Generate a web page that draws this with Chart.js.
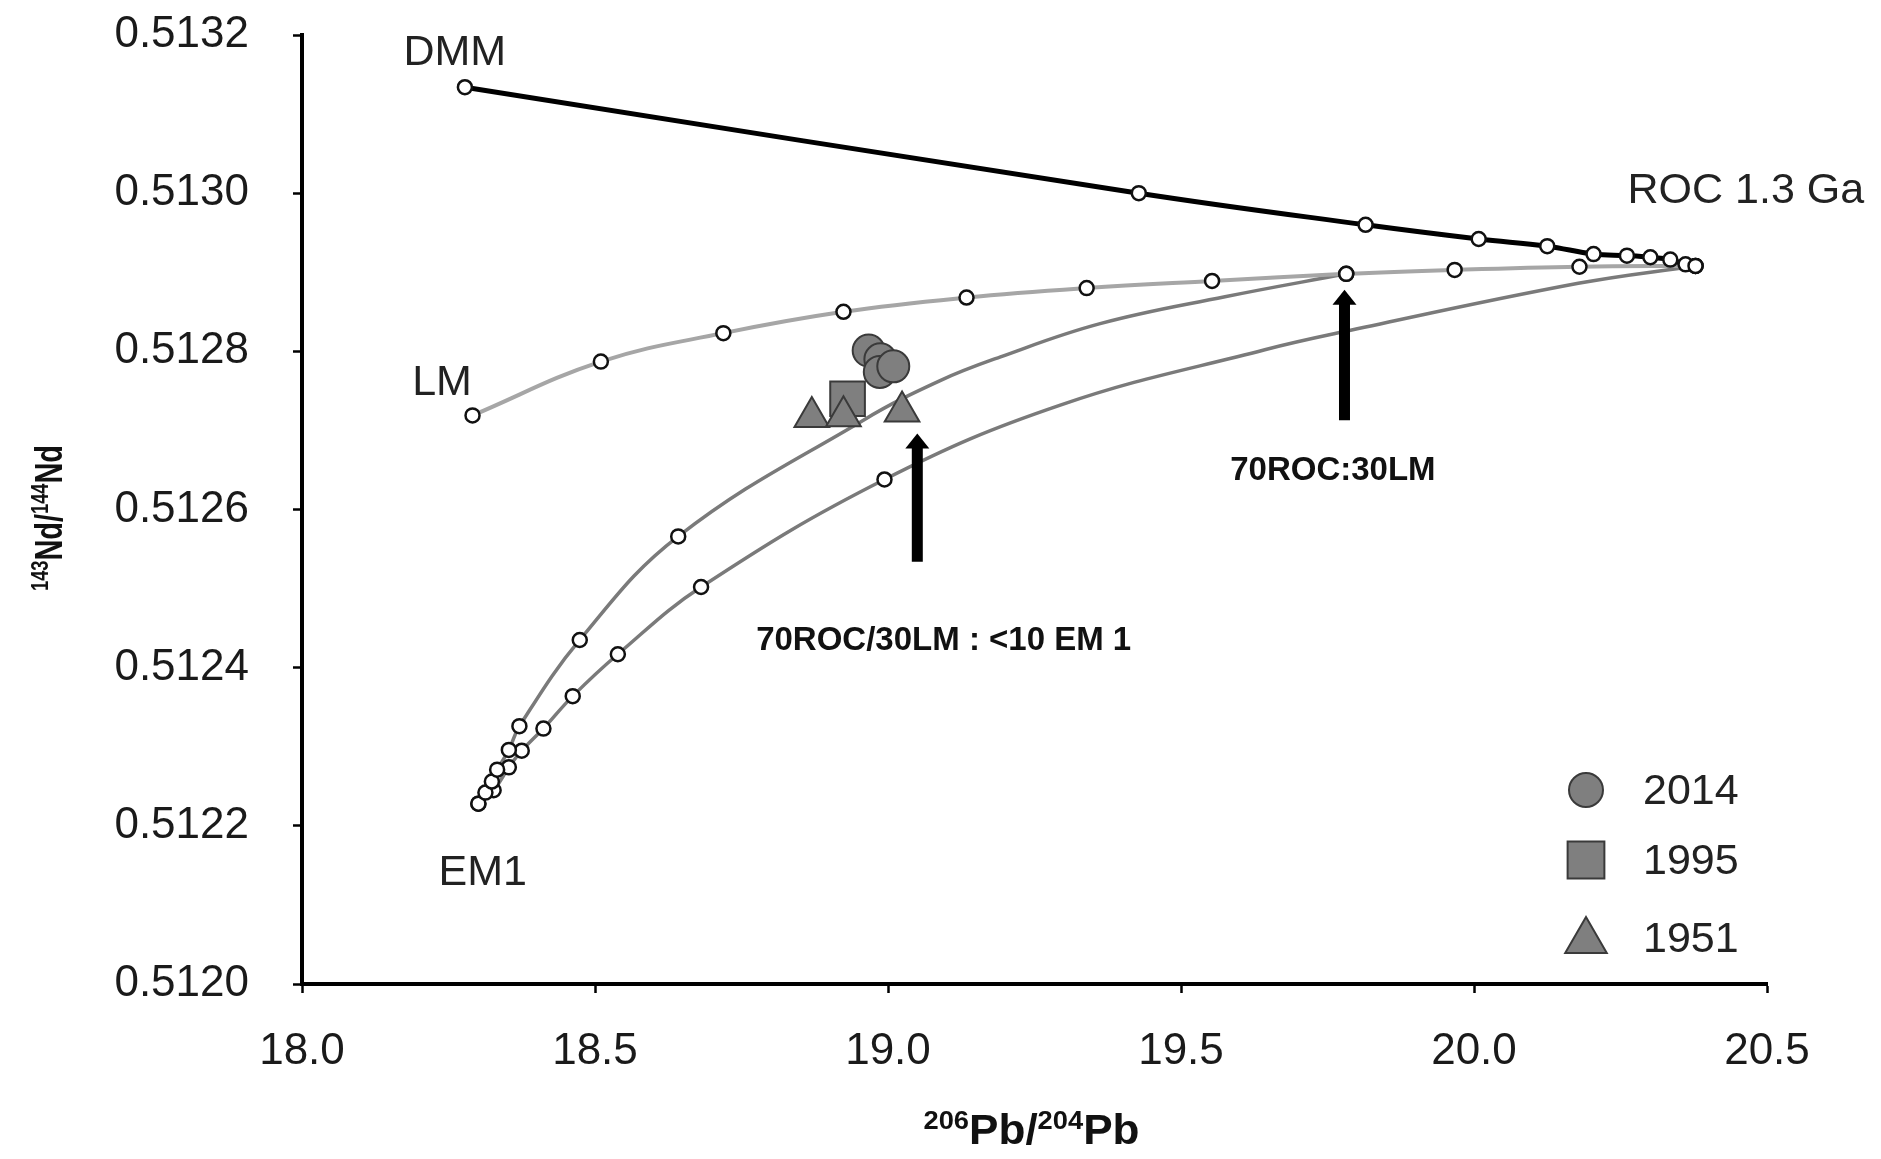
<!DOCTYPE html>
<html>
<head>
<meta charset="utf-8">
<script src="https://cdn.jsdelivr.net/npm/chart.js@4.4.1/dist/chart.umd.min.js"></script>
<style>
html,body{margin:0;padding:0;background:#ffffff;}
#wrap{width:1881px;height:1159px;position:relative;}
canvas{display:block;}
</style>
</head>
<body>
<div id="wrap"><canvas id="c" width="1881" height="1159" style="width:1881px;height:1159px"></canvas></div>
<script>
// ---------- axis ticks ----------
const xTickValues = [18.0, 18.5, 19.0, 19.5, 20.0, 20.5];
const yTickValues = [0.5120, 0.5122, 0.5124, 0.5126, 0.5128, 0.5130, 0.5132];

// ---------- DMM – ROC mixing line (model nodes) ----------
const dmmX = [18.278, 19.428, 19.815, 20.008, 20.125, 20.204, 20.261, 20.301, 20.335, 20.361, 20.378];
const dmmY = [0.513134, 0.513000, 0.512960, 0.512942, 0.512933, 0.512923, 0.512921, 0.512919, 0.512916, 0.512910, 0.512908];

// ---------- LM – ROC mixing line (model nodes) ----------
const lmX = [18.291, 18.510, 18.719, 18.924, 19.134, 19.339, 19.553, 19.782, 19.967, 20.180, 20.378];
const lmY = [0.512719, 0.512787, 0.512823, 0.512850, 0.512868, 0.512880, 0.512889, 0.512898, 0.512903, 0.512907, 0.512908];

// ---------- EM1 – (70ROC/30LM) mixing curve ----------
const mixNodeX = [18.301, 18.313, 18.324, 18.333, 18.353, 18.371, 18.474, 18.642, 19.782];
const mixNodeY = [0.512228, 0.512242, 0.512256, 0.512271, 0.512296, 0.512326, 0.512435, 0.512566, 0.512898];
const mixTraceX = [18.958, 19.089, 19.192, 19.362, 19.575];
const mixTraceY = [0.512713, 0.512763, 0.512793, 0.512835, 0.512869];

// ---------- EM1 – ROC mixing curve ----------
const emNodeX = [18.301, 18.327, 18.353, 18.375, 18.412, 18.462, 18.539, 18.681, 18.994, 20.378];
const emNodeY = [0.512228, 0.512245, 0.512274, 0.512295, 0.512323, 0.512364, 0.512417, 0.512502, 0.512638, 0.512908];
const emTraceX = [19.294, 19.643, 19.779, 20.178];
const emTraceY = [0.512732, 0.512802, 0.512825, 0.512886];

// ---------- samples ----------
const s2014X = [18.967, 18.987, 18.986, 19.009];
const s2014Y = [0.512801, 0.512790, 0.512774, 0.512781];
const s1995X = [18.931];
const s1995Y = [0.512740];
const s1951X = [18.870, 18.924, 19.024];
const s1951Y = [0.512717, 0.512718, 0.512724];

// ---------- arrows ----------
const arrowX = [19.050, 19.779];
const arrowFromY = [0.512534, 0.512713];
const arrowToY = [0.512696, 0.512878];

// ---------- labels ----------
const labelTexts = ['DMM', 'ROC 1.3 Ga', 'LM', 'EM1', '70ROC/30LM : <10 EM 1', '70ROC:30LM'];
const labelX = [18.173, 20.262, 18.188, 18.233, 18.775, 19.584];
const labelY = [0.513162, 0.512988, 0.512745, 0.512125, 0.512422, 0.512637];
const labelBold = [false, false, false, false, true, true];

const legendNames = ['2014', '1995', '1951'];

// ---------- helpers ----------
const FONT = "'Liberation Sans', Arial, Helvetica, sans-serif";
const pts = (xs, ys) => xs.map((v, i) => ({x: v, y: ys[i]}));
const merged = (ax, ay, bx, by) => pts(ax, ay).concat(pts(bx, by)).sort((a, b) => a.x - b.x);

const MARK_FILL = '#7f7f7f';
const MARK_EDGE = '#3a3a3a';

const lineDs = (data, color, width) => ({
  data, showLine: true, borderColor: color, borderWidth: width,
  pointRadius: 0, pointHoverRadius: 0, tension: 0.4, fill: false, order: 5
});
const nodeDs = (data) => ({
  data, showLine: false, pointRadius: 7, pointHoverRadius: 7, pointBorderWidth: 2.5,
  pointBackgroundColor: '#ffffff', pointBorderColor: '#111111', order: 4
});

const datasets = [
  lineDs(pts(dmmX, dmmY), '#000000', 5),
  lineDs(pts(lmX, lmY), '#a6a6a6', 4),
  lineDs(merged(mixNodeX, mixNodeY, mixTraceX, mixTraceY), '#7a7a7a', 3.5),
  lineDs(merged(emNodeX, emNodeY, emTraceX, emTraceY), '#7a7a7a', 3.5),
  nodeDs(pts(dmmX, dmmY)),
  nodeDs(pts(lmX, lmY)),
  nodeDs(pts(mixNodeX, mixNodeY)),
  nodeDs(pts(emNodeX, emNodeY)),
  { label: legendNames[1], data: pts(s1995X, s1995Y), pointStyle: 'rect', pointRadius: 24.5, pointBorderWidth: 2,
    pointBackgroundColor: MARK_FILL, pointBorderColor: MARK_EDGE, order: 3 },
  { label: legendNames[0], data: pts(s2014X, s2014Y), pointStyle: 'circle', pointRadius: 16, pointBorderWidth: 2,
    pointBackgroundColor: MARK_FILL, pointBorderColor: MARK_EDGE, order: 2 },
  { label: legendNames[2], data: pts(s1951X, s1951Y), pointStyle: 'triangle', pointRadius: 20, pointBorderWidth: 2,
    pointBackgroundColor: MARK_FILL, pointBorderColor: MARK_EDGE, order: 1 }
];

function drawMarker(ctx, style, cx, cy, r) {
  ctx.beginPath();
  if (style === 'circle') {
    ctx.arc(cx, cy, r, 0, Math.PI * 2);
  } else if (style === 'rect') {
    const s = r * Math.SQRT1_2;
    ctx.rect(cx - s, cy - s, 2 * s, 2 * s);
  } else {
    let a = 0;
    ctx.moveTo(cx + Math.sin(a) * r, cy - Math.cos(a) * r);
    a += 2 * Math.PI / 3;
    ctx.lineTo(cx + Math.sin(a) * r, cy - Math.cos(a) * r);
    a += 2 * Math.PI / 3;
    ctx.lineTo(cx + Math.sin(a) * r, cy - Math.cos(a) * r);
    ctx.closePath();
  }
  ctx.fillStyle = MARK_FILL; ctx.strokeStyle = MARK_EDGE; ctx.lineWidth = 2;
  ctx.fill(); ctx.stroke();
}

function drawSupText(ctx, parts, mainSize, supSize, targetW, cx, baseY) {
  let w = 0;
  const widths = parts.map(([t, sup]) => {
    ctx.font = 'bold ' + (sup ? supSize : mainSize) + 'px ' + FONT;
    const m = ctx.measureText(t).width; w += m; return m;
  });
  const k = targetW / w;
  ctx.save();
  ctx.translate(cx, baseY);
  ctx.scale(k, 1);
  let x = -w / 2;
  ctx.textBaseline = 'alphabetic'; ctx.textAlign = 'left'; ctx.fillStyle = '#111';
  parts.forEach(([t, sup], i) => {
    ctx.font = 'bold ' + (sup ? supSize : mainSize) + 'px ' + FONT;
    ctx.fillText(t, x, sup ? -mainSize * 0.36 : 0);
    x += widths[i];
  });
  ctx.restore();
}

const overlay = {
  id: 'overlay',
  afterDatasetsDraw(chart) {
    const {ctx, chartArea} = chart;
    const xs = chart.scales.x, ys = chart.scales.y;

    // arrows
    ctx.save();
    ctx.fillStyle = '#000'; ctx.strokeStyle = '#000';
    for (let i = 0; i < arrowX.length; i++) {
      const px = xs.getPixelForValue(arrowX[i]);
      const p0 = ys.getPixelForValue(arrowFromY[i]);
      const p1 = ys.getPixelForValue(arrowToY[i]);
      const headLen = 15, headW = 12;
      ctx.lineWidth = 11; ctx.lineCap = 'butt';
      ctx.beginPath(); ctx.moveTo(px, p0); ctx.lineTo(px, p1 + headLen - 1); ctx.stroke();
      ctx.beginPath(); ctx.moveTo(px, p1); ctx.lineTo(px - headW, p1 + headLen); ctx.lineTo(px + headW, p1 + headLen);
      ctx.closePath(); ctx.fill();
    }
    ctx.restore();

    // text labels
    ctx.save();
    ctx.textBaseline = 'alphabetic'; ctx.textAlign = 'left';
    for (let i = 0; i < labelTexts.length; i++) {
      ctx.font = labelBold[i] ? ('bold 33px ' + FONT) : ('43px ' + FONT);
      ctx.fillStyle = labelBold[i] ? '#111' : '#222';
      ctx.fillText(labelTexts[i], xs.getPixelForValue(labelX[i]), ys.getPixelForValue(labelY[i]));
    }
    ctx.restore();

    // legend
    ctx.save();
    const styles = ['circle', 'rect', 'triangle'];
    const radii = [17, 26, 24];
    const rowY = [chartArea.bottom - 194, chartArea.bottom - 124, chartArea.bottom - 46];
    const mx = chartArea.right - 181;
    for (let i = 0; i < 3; i++) {
      drawMarker(ctx, styles[i], mx, rowY[i] + (i === 2 ? 3 : 0), radii[i]);
      ctx.font = '43px ' + FONT; ctx.fillStyle = '#222';
      ctx.textBaseline = 'middle'; ctx.textAlign = 'left';
      ctx.fillText(legendNames[i], mx + 57, rowY[i] + 2);
    }
    ctx.restore();

    // axis titles
    drawSupText(ctx, [['206', true], ['Pb/', false], ['204', true], ['Pb', false]], 42, 26, 216,
      (chartArea.left + chartArea.right) / 2 - 3, 1144);
    ctx.save();
    ctx.translate(62, 518);
    ctx.rotate(-Math.PI / 2);
    drawSupText(ctx, [['143', true], ['Nd/', false], ['144', true], ['Nd', false]], 38, 24, 146, 0, 0);
    ctx.restore();
  }
};

new Chart(document.getElementById('c'), {
  type: 'scatter',
  data: { datasets },
  options: {
    responsive: false,
    devicePixelRatio: 1,
    animation: false,
    events: [],
    layout: { padding: { top: 35, right: 114, left: 0, bottom: 0 } },
    plugins: { legend: { display: false }, tooltip: { enabled: false }, title: { display: false } },
    scales: {
      x: {
        type: 'linear', min: 18, max: 20.5,
        afterBuildTicks: s => { s.ticks = xTickValues.map(v => ({value: v})); },
        afterFit: s => { s.height = 175; s.paddingLeft = 0; s.paddingRight = 0; },
        ticks: { callback: v => Number(v).toFixed(1), font: { family: FONT, size: 44 }, color: '#1a1a1a', padding: 32, maxRotation: 0 },
        grid: { display: true, drawOnChartArea: false, drawTicks: true, tickLength: 9, tickColor: '#000', tickWidth: 2.5 },
        border: { display: true, color: '#000', width: 4 }
      },
      y: {
        type: 'linear', min: 0.5120, max: 0.5132,
        afterBuildTicks: s => { s.ticks = yTickValues.map(v => ({value: v})); },
        afterFit: s => { s.width = 302; s.paddingTop = 0; s.paddingBottom = 0; },
        ticks: { callback: v => Number(v).toFixed(4), font: { family: FONT, size: 44 }, color: '#1a1a1a', padding: 44 },
        grid: { display: true, drawOnChartArea: false, drawTicks: true, tickLength: 9, tickColor: '#000', tickWidth: 2.5 },
        border: { display: true, color: '#000', width: 4 }
      }
    }
  },
  plugins: [overlay]
});
</script>
</body>
</html>
